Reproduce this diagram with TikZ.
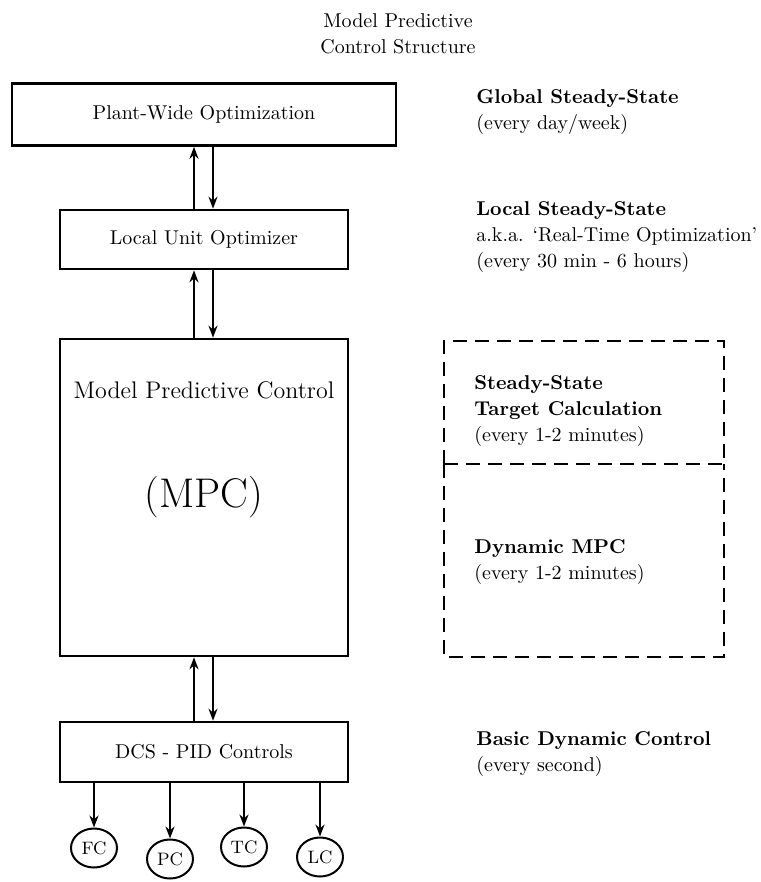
\documentclass[tikz,border=0pt]{standalone}
\usepackage{tikz}
\usetikzlibrary{arrows.meta, positioning, shapes.geometric}

\begin{document}
\begin{tikzpicture}[
  x=0.5pt, y=-0.5pt,
  box/.style={draw, line width=1.3pt, align=center, minimum width=144pt,
              minimum height=30pt, inner sep=0pt},
  dashes/.style={dash pattern=on 7pt off 4pt, line width=1.3pt},
  dbox/.style={dashes, draw, minimum width=140pt, inner sep=0pt, outer sep=0pt},
  tag/.style={anchor=west, align=left, inner sep=0pt},
  loop/.style={draw, ellipse, line width=1pt, minimum width=23pt, minimum height=19.5pt,
               inner sep=0pt, font=\small},
  arrow/.style={-{Stealth[length=6pt, width=4.5pt]}, line width=1pt}
]
\useasboundingbox (0,0) rectangle (760,882);

\node[align=center] (title) at (398,33.5) {Model Predictive\\[1pt] Control Structure};

\node[box, minimum width=192pt, minimum height=31pt] (plant) at (204,114.5) {Plant-Wide Optimization};
\node[box, minimum height=29.5pt] (luo) at (204,239.5) {Local Unit Optimizer};
\node[box, minimum height=158.5pt] (mpc) at (204,497.5) {\huge (MPC)};
\node[font=\large] (mpcname) at (204,390) {Model Predictive Control};
\node[box, minimum height=30pt] (dcs) at (204,752) {DCS - PID Controls};

\node[loop] (fc) at (94,848) {FC};
\node[loop] (pc) at (170,859) {PC};
\node[loop] (tc) at (244,847) {TC};
\node[loop] (lc) at (320,857) {LC};

\node[dbox, minimum height=61.5pt] (sstc) at (584,402.5) {};
\node[dbox, draw=none, minimum height=96.5pt] (dyn) at (584,560.5) {};
\draw[dashes] (sstc.south west) -- (dyn.south west) -- (dyn.south east) -- (sstc.south east);
\node[tag] (ssttext) at (474,411) {\textbf{Steady-State}\\[1pt] \textbf{Target Calculation}\\[1pt] (every 1-2 minutes)};
\node[tag] (dyntext) at (474,562.5) {\textbf{Dynamic MPC}\\[1pt] (every 1-2 minutes)};

\node[tag] (gss) at (476,112.5) {\textbf{Global Steady-State}\\[1pt] (every day/week)};
\node[tag] (lss) at (476,237.5) {\textbf{Local Steady-State}\\[1pt] a.k.a. `Real-Time Optimization'\\[1pt] (every 30 min - 6 hours)};
\node[tag] (bdc) at (476,754.5) {\textbf{Basic Dynamic Control}\\[1pt] (every second)};

\draw[arrow] ([xshift=-5pt]luo.north) -- ([xshift=-5pt]luo.north |- plant.south);
\draw[arrow] ([xshift=4.5pt]luo.north |- plant.south) -- ([xshift=4.5pt]luo.north);
\draw[arrow] ([xshift=-5pt]mpc.north) -- ([xshift=-5pt]luo.south);
\draw[arrow] ([xshift=4.5pt]luo.south) -- ([xshift=4.5pt]mpc.north);
\draw[arrow] ([xshift=-5pt]dcs.north) -- ([xshift=-5pt]mpc.south);
\draw[arrow] ([xshift=4.5pt]mpc.south) -- ([xshift=4.5pt]dcs.north);

\foreach \c in {fc,pc,tc,lc}
  \draw[arrow] (dcs.south -| \c.north) -- (\c.north);
\end{tikzpicture}
\end{document}
